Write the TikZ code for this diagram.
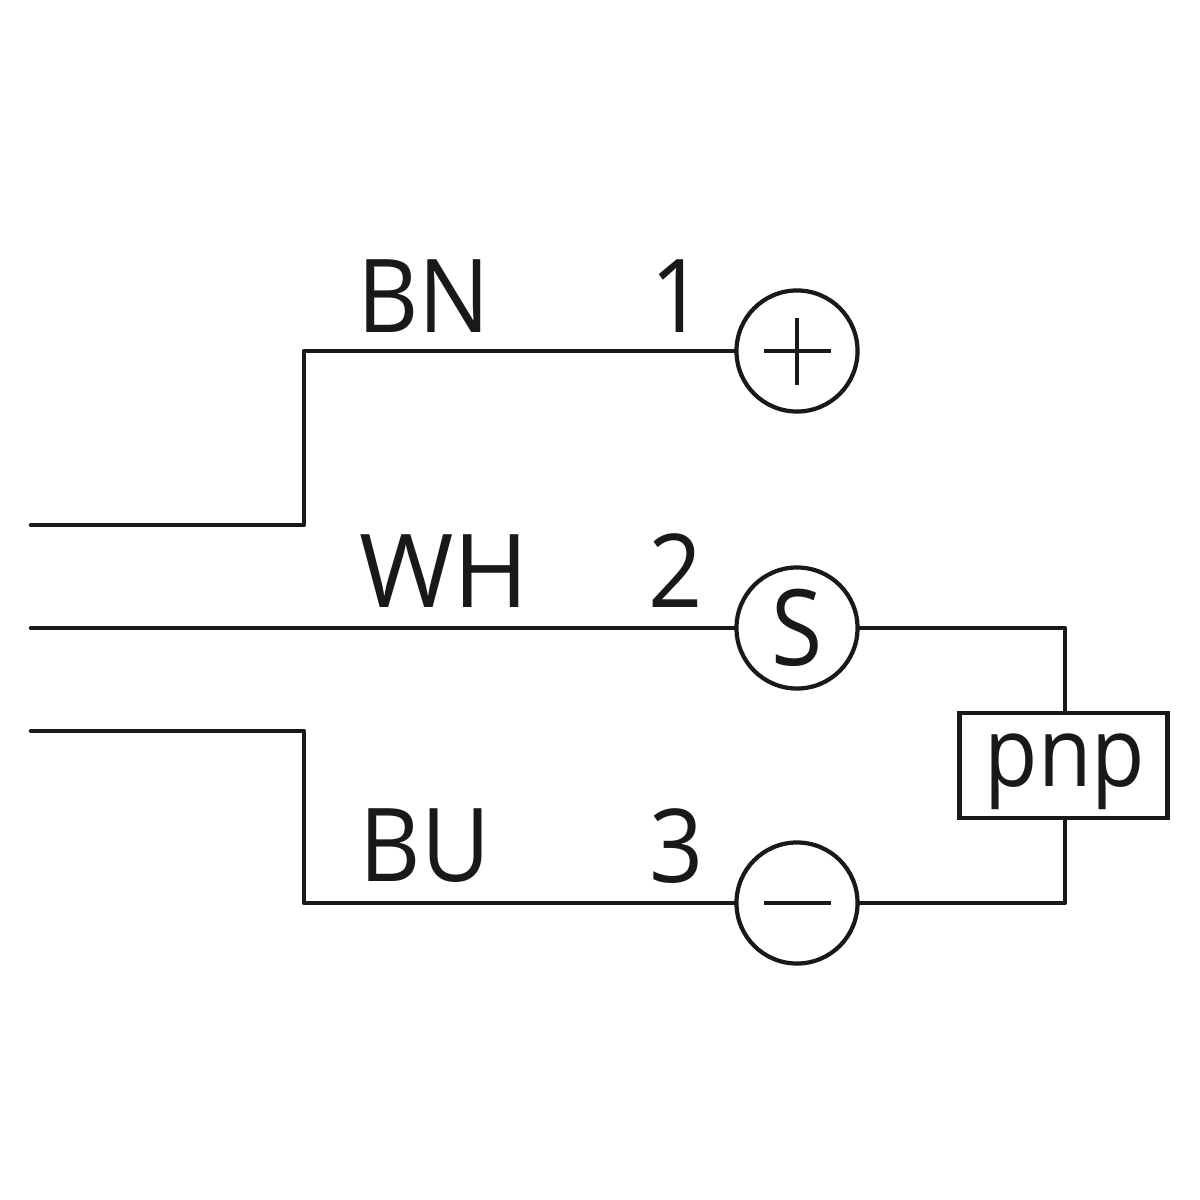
\documentclass[tikz,border=0pt]{standalone}
\usepackage{fontspec}
\setmainfont{Open Sans}
\tikzset{
  wire/.style={draw=black!90!white,line width=1.3pt,line cap=round,line join=round},
  term/.style={circle,draw=black!90!white,line width=1.2pt,minimum size=1.21cm,inner sep=0pt,fill=white},
  lab/.style={font=\fontsize{29}{30}\selectfont,text=black!90!white,inner sep=0pt,anchor=base,xscale=0.93},
  symb/.style={draw=black!90!white,line width=1.3pt},
}
\begin{document}
\begin{tikzpicture}[x=0.01cm,y=-0.01cm]
\useasboundingbox (0,0) rectangle (1200,1200);
\fill[white] (0,0) rectangle (1200,1200);
\node[term] (tp) at (797,351) {};
\node[term] (ts) at (797,628) {};
\node[term] (tm) at (797,903) {};
\node[draw=black!90!white,line width=1.3pt,minimum width=2.08cm,minimum height=1.05cm,inner sep=0pt] (pnp) at (1063.5,765.5) {};
\node[lab,font=\fontsize{27.5}{28}\selectfont,xscale=0.97] (tpnp) at (1065,786) {pnp};
\coordinate (a1) at (31,525);
\coordinate (a2) at (304,525);
\coordinate (a3) at (304,351);
\coordinate (b1) at (31,628);
\coordinate (b2) at (1065,628);
\coordinate (c1) at (31,731);
\coordinate (c2) at (304,731);
\coordinate (c3) at (304,903);
\coordinate (d1) at (1065,903);
\draw[wire] (a1) -- (a2) -- (a3) -- (tp);
\draw[wire] (b1) -- (ts);
\draw[wire] (ts) -- (b2) -- (pnp.north -| b2);
\draw[wire] (c1) -- (c2) -- (c3) -- (tm);
\draw[wire] (tm) -- (d1) -- (pnp.south -| d1);
\coordinate (p1) at (764,351); \coordinate (p2) at (831,351);
\coordinate (p3) at (797,318); \coordinate (p4) at (797,385);
\draw[symb] (p1) -- (p2) (p3) -- (p4);
\coordinate (m1) at (764,903); \coordinate (m2) at (831,903);
\draw[symb] (m1) -- (m2);
\node[lab,font=\fontsize{30}{31}\selectfont,xscale=0.95] (ls) at (797,665) {S};
\node[lab] (l1) at (424,332) {BN};
\node[lab,xscale=1.075] (l2) at (444,607) {WH};
\node[lab] (l3) at (425,881) {BU};
\node[lab] (n1) at (678,332) {1};
\node[lab] (n2) at (676,607) {2};
\node[lab] (n3) at (677,882) {3};
\end{tikzpicture}
\end{document}
